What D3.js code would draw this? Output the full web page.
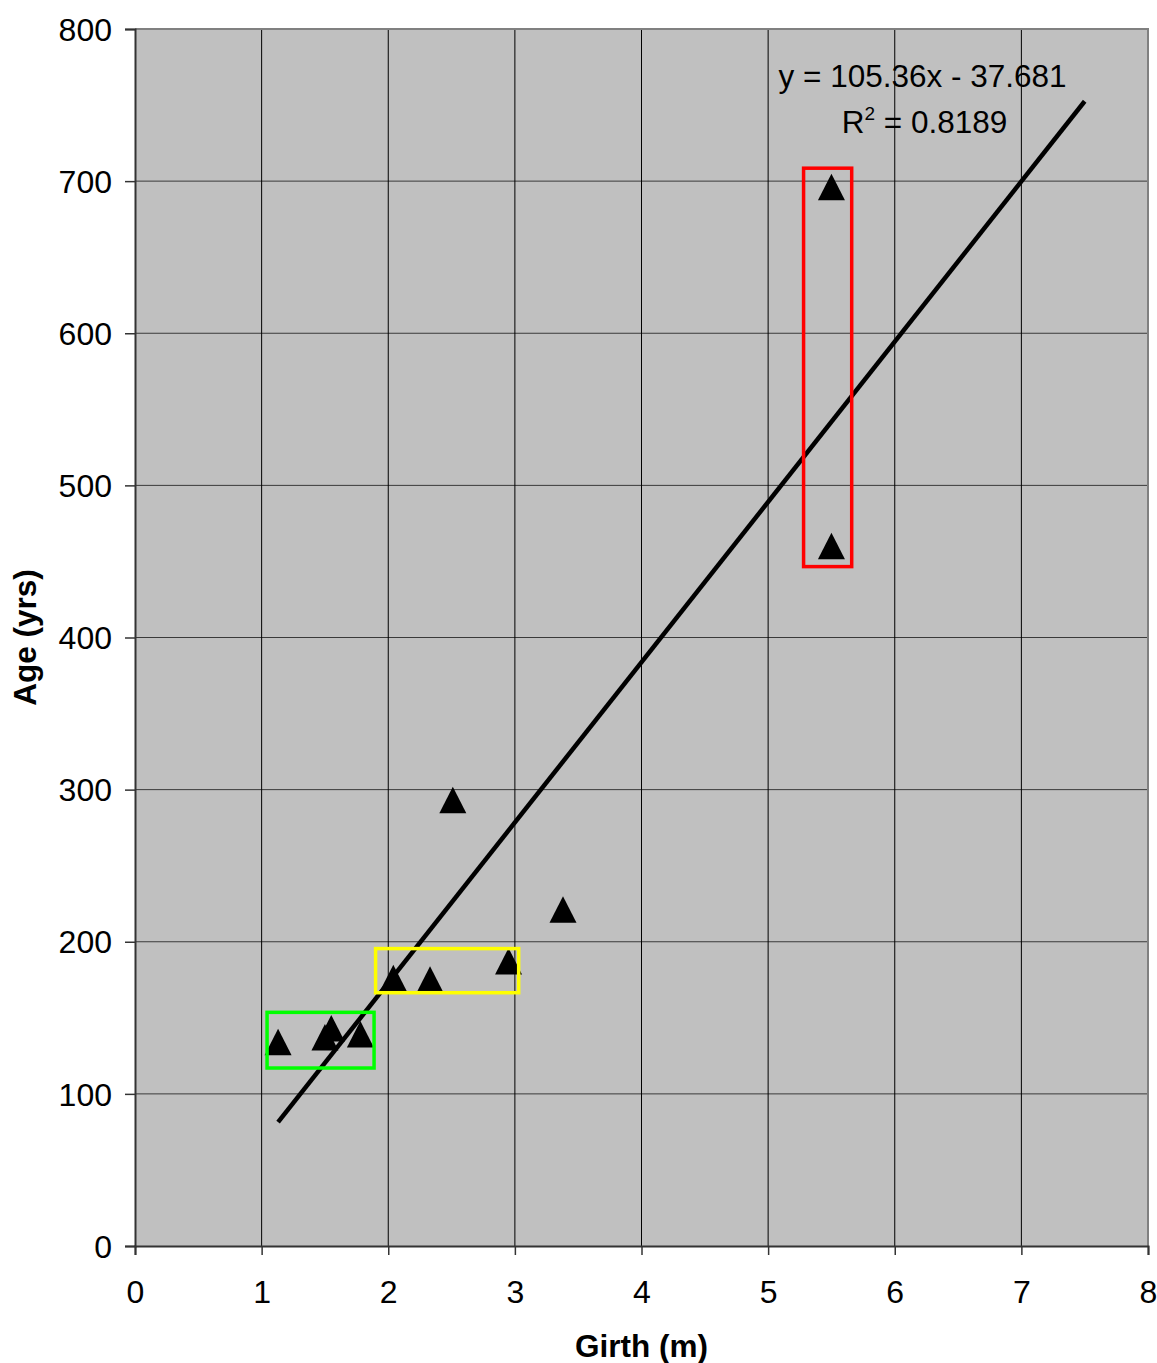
<!DOCTYPE html>
<html>
<head>
<meta charset="utf-8">
<script src="https://cdn.jsdelivr.net/npm/d3@7"></script>
<style>
  html, body { margin: 0; padding: 0; background: #fff; }
  svg text { font-family: "Liberation Sans", Arial, sans-serif; fill: #000; }
</style>
</head>
<body>
<script>
// ---- data ----
const girth = [1.13, 1.50, 1.55, 1.78, 2.04, 2.33, 2.95, 2.51, 3.38, 5.50, 5.50];
const age   = [134, 137, 143, 139, 176, 175, 187, 293, 221, 696, 460];
const xTicks = [0, 1, 2, 3, 4, 5, 6, 7, 8];
const yTicks = [0, 100, 200, 300, 400, 500, 600, 700, 800];
const slope = 105.36, intercept = -37.681, r2 = 0.8189;
const trendEndX = 7.5;
const boxColors = ["#00ff00", "#ffff00", "#ff0000"];
const boxX0 = [1.043, 1.90, 5.28];
const boxX1 = [1.888, 3.03, 5.66];
const boxY0 = [117.0, 166.5, 446.6];
const boxY1 = [153.6, 195.5, 708.5];
const xTitle = "Girth (m)", yTitle = "Age (yrs)";

// ---- layout ----
const W = 1157, H = 1363;
const pL = 135, pR = 1148, pT = 29, pB = 1246;

const svg = d3.select("body").append("svg").attr("width", W).attr("height", H);
const x = d3.scaleLinear().domain([0, 8]).range([pL, pR]);
const y = d3.scaleLinear().domain([0, 800]).range([pB, pT]);

// plot background
svg.append("rect").attr("x", pL).attr("y", pT)
  .attr("width", pR - pL).attr("height", pB - pT).attr("fill", "#c0c0c0");

// horizontal gridlines
svg.append("g").selectAll("line").data(yTicks.filter(d => d > 0 && d < 800)).join("line")
  .attr("x1", pL).attr("x2", pR).attr("y1", d => y(d)).attr("y2", d => y(d))
  .attr("stroke", "#3a3a3a").attr("stroke-width", 1);
// vertical gridlines
svg.append("g").selectAll("line").data(xTicks.filter(d => d > 0 && d < 8)).join("line")
  .attr("y1", pT).attr("y2", pB).attr("x1", d => x(d)).attr("x2", d => x(d))
  .attr("stroke", "#000").attr("stroke-width", 1);

// top/right border
svg.append("path").attr("d", `M${pL},${pT}H${pR}V${pB}`)
  .attr("fill", "none").attr("stroke", "#808080").attr("stroke-width", 2);

// axes
const xAxis = d3.axisBottom(x).tickValues(xTicks).tickSize(9).tickPadding(25).tickFormat(d3.format("d"));
const yAxis = d3.axisLeft(y).tickValues(yTicks).tickSize(10).tickPadding(13).tickFormat(d3.format("d"));
const gx = svg.append("g").attr("transform", `translate(0,${pB})`).call(xAxis);
const gy = svg.append("g").attr("transform", `translate(${pL},0)`).call(yAxis);
[gx, gy].forEach(g => {
  g.select(".domain").attr("stroke", "#333").attr("stroke-width", 2);
  g.selectAll(".tick line").attr("stroke", "#333").attr("stroke-width", 1.5);
  g.selectAll(".tick text").attr("font-size", 32).attr("font-family", "Liberation Sans, Arial, sans-serif").attr("fill", "#000");
});
gx.selectAll(".tick text").attr("dy", "0.71em");
gy.selectAll(".tick text").attr("dy", "0.35em");

// trendline
const xMin = d3.min(girth);
svg.append("line")
  .attr("x1", x(xMin)).attr("y1", y(slope * xMin + intercept))
  .attr("x2", x(trendEndX)).attr("y2", y(slope * trendEndX + intercept))
  .attr("stroke", "#000").attr("stroke-width", 4.5);

// markers
const tri = "M0,-13.5L13.5,13L-13.5,13Z";
svg.append("g").selectAll("path").data(girth).join("path")
  .attr("d", tri)
  .attr("transform", (d, i) => `translate(${x(d)},${y(age[i])})`)
  .attr("fill", "#000");

// highlight boxes
svg.append("g").selectAll("rect").data(boxColors).join("rect")
  .attr("x", (d, i) => x(boxX0[i])).attr("y", (d, i) => y(boxY1[i]))
  .attr("width", (d, i) => x(boxX1[i]) - x(boxX0[i]))
  .attr("height", (d, i) => y(boxY0[i]) - y(boxY1[i]))
  .attr("fill", "none").attr("stroke", d => d).attr("stroke-width", 3.5);

// equation label
svg.append("text").attr("x", x(6.22)).attr("y", y(762)).attr("text-anchor", "middle")
  .attr("font-size", 31.5).text(`y = ${slope}x - ${Math.abs(intercept)}`);
const rt = svg.append("text").attr("x", x(6.235)).attr("y", y(731.7)).attr("text-anchor", "middle")
  .attr("font-size", 31.5);
rt.append("tspan").text("R");
rt.append("tspan").attr("font-size", 19).attr("dy", -13).text("2");
rt.append("tspan").attr("dy", 13).text(` = ${r2}`);

// axis titles
svg.append("text").attr("x", (pL + pR) / 2).attr("y", 1357).attr("text-anchor", "middle")
  .attr("font-size", 31.5).attr("font-weight", "bold").text(xTitle);
svg.append("text").attr("transform", `translate(36,${(pT + pB) / 2})rotate(-90)`)
  .attr("text-anchor", "middle").attr("font-size", 31.5).attr("font-weight", "bold").text(yTitle);
</script>
</body>
</html>
